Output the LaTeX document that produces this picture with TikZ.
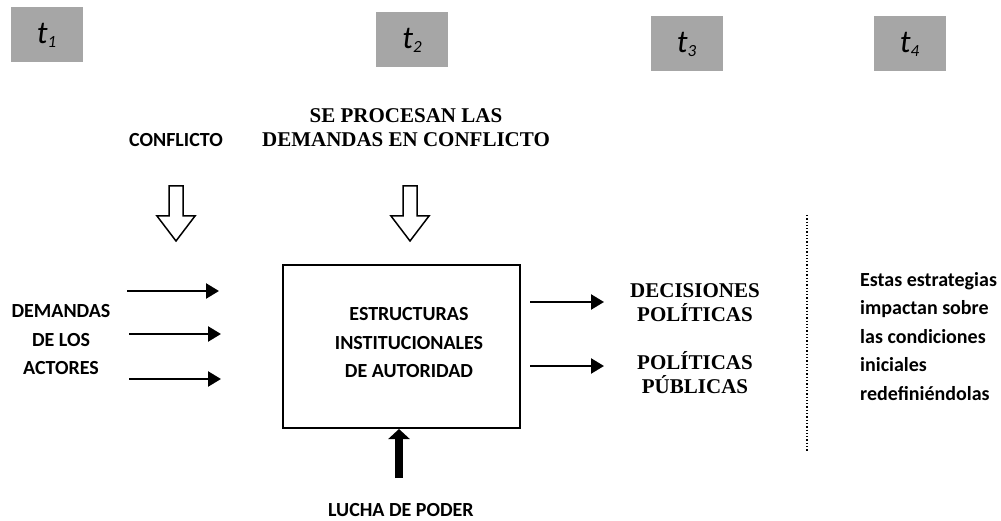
\documentclass[tikz,border=0pt]{standalone}
\usepackage{fontspec}
\setmainfont{Liberation Serif}
\setsansfont{Carlito}
\usetikzlibrary{arrows.meta}
\definecolor{tgray}{RGB}{166,166,166}
\begin{document}
\begin{tikzpicture}[x=1pt,y=-1pt,
  tbox/.style={fill=tgray, minimum width=72pt, minimum height=55pt, inner sep=0pt, font=\sffamily\itshape\fontsize{32}{32}\selectfont},
  sanslab/.style={font=\sffamily\bfseries\fontsize{20}{28.5}\selectfont, align=center, inner sep=0pt},
  seriflab/.style={font=\bfseries\fontsize{21}{24}\selectfont, align=center, inner sep=0pt},
  arr/.style={line width=2.5pt, -{Triangle[length=13pt,width=15pt]}},
  hollow/.style={draw, line width=1.5pt, fill=white, line join=miter},
]
\useasboundingbox (0,0) rectangle (1001,521);
\newcommand{\tsub}[1]{t\raisebox{-4pt}{\fontsize{17}{17}\selectfont #1}}
% time boxes
\node[tbox] (t1) at (46.5,35) {\raisebox{-9pt}{\tsub{1}}};
\node[tbox] (t2) at (412,40) {\raisebox{-9pt}{\tsub{2}}};
\node[tbox] (t3) at (686.5,44) {\raisebox{-9pt}{\tsub{3}}};
\node[tbox] (t4) at (909.5,44) {\raisebox{-9pt}{\tsub{4}}};
% top labels
\node[sanslab] (conf) at (176,140) {CONFLICTO};
\node[seriflab] (proc) at (406,128) {SE PROCESAN LAS\\DEMANDAS EN CONFLICTO};
% hollow arrows
\draw[hollow] (169,186) -- (183,186) -- (183,216) -- (195,216) -- (176,241) -- (157,216) -- (169,216) -- cycle;
\draw[hollow] (403,186) -- (417,186) -- (417,216) -- (429,216) -- (410,241) -- (391,216) -- (403,216) -- cycle;
% central box
\node[draw, line width=2pt, minimum width=237pt, minimum height=163pt, inner sep=0pt] (box) at (401.5,346.5) {};
\node[sanslab] (boxtxt) at (409,343) {ESTRUCTURAS\\INSTITUCIONALES\\DE AUTORIDAD};
% left
\node[sanslab] (dem) at (61,340) {DEMANDAS\\DE LOS\\ACTORES};
\coordinate (a1s) at (127,291); \coordinate (a1e) at (219,291);
\coordinate (a2s) at (129,334); \coordinate (a2e) at (221,334);
\coordinate (a3s) at (129,379); \coordinate (a3e) at (221,379);
\draw[arr] (a1s) -- (a1e);
\draw[arr] (a2s) -- (a2e);
\draw[arr] (a3s) -- (a3e);
% right
\node[seriflab] (dec) at (695,303) {DECISIONES\\POLÍTICAS};
\node[seriflab] (pub) at (695,373) {POLÍTICAS\\PÚBLICAS};
\coordinate (b1s) at (530,302); \coordinate (b1e) at (604,302);
\coordinate (b2s) at (530,366); \coordinate (b2e) at (604,366);
\draw[arr] (b1s) -- (b1e);
\draw[arr] (b2s) -- (b2e);
% bottom
\node[sanslab] (lucha) at (401,510) {LUCHA DE PODER};
\coordinate (ls) at (399,478);
\draw[line width=8pt, -{Triangle[length=10pt,width=21pt]}] (ls) -- (ls |- box.south);
% dotted separator
\coordinate (d1) at (807,215); \coordinate (d2) at (807,452);
\draw[line width=1.3pt, dotted] (d1) -- (d2);
% right text
\node[sanslab, align=left, anchor=north west] (est) at (860,272) {Estas estrategias\\impactan sobre\\las condiciones\\iniciales\\redefiniéndolas};
\end{tikzpicture}
\end{document}
